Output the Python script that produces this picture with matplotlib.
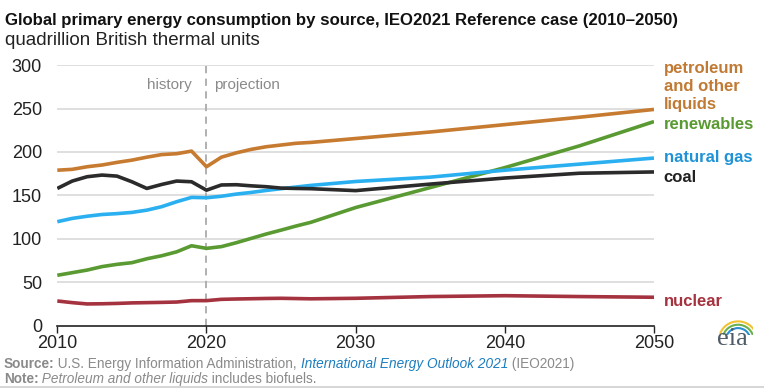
import matplotlib
matplotlib.use("Agg")
import matplotlib.pyplot as plt
from matplotlib.lines import Line2D
from matplotlib.patches import Arc

plt.rcParams['font.family'] = ['Liberation Sans', 'DejaVu Sans']

years_hist = [2010, 2011, 2012, 2013, 2014, 2015, 2016, 2017, 2018, 2019, 2020,
              2021, 2022, 2023, 2024, 2025, 2026, 2027]
years_proj = [2030, 2035, 2040, 2045, 2050]
years = years_hist + years_proj

petroleum = [179, 180, 183, 185, 188, 190.6, 194, 197, 198, 201, 183,
             194, 199, 203, 206, 208, 210, 211,
             215.5, 223, 231.5, 240, 249]
renewables = [58, 61, 64, 68, 70.6, 72.5, 77, 80.5, 85, 92, 89,
              91, 95.5, 100.5, 105.5, 110, 114.7, 119,
              136, 159, 182, 207, 235]
natural_gas = [119.7, 123.5, 126, 128, 129, 130.4, 133, 137, 142.7, 147.7, 147.3,
               149, 151.5, 153.4, 155.7, 157.7, 159.6, 161.5,
               166, 171, 179, 186, 193]
coal = [158, 166.5, 171.5, 173.4, 172.2, 165.7, 158, 162.6, 166.5, 165.7, 156,
        162, 162.3, 161, 160, 158.4, 158, 157.7,
        155.5, 163, 170, 175.5, 177]
nuclear = [28.4, 26.5, 25, 25.2, 25.6, 26.2, 26.5, 26.8, 27.2, 28.8, 28.8,
           30.3, 30.7, 31, 31.3, 31.5, 31.2, 30.9,
           31.5, 33.5, 34.5, 33.5, 32.7]

series = [
    ("petroleum\nand other\nliquids", petroleum, "#c67b30", "#c07a33"),
    ("renewables", renewables, "#5a9a32", "#5a9a32"),
    ("natural gas", natural_gas, "#2ab0f0", "#1f93d6"),
    ("coal", coal, "#2b2b2b", "#222222"),
    ("nuclear", nuclear, "#a5323f", "#a5323f"),
]
label_y = {"petroleum\nand other\nliquids": 275.5, "renewables": 231.5,
           "natural gas": 194, "coal": 171, "nuclear": 27.5}

xticks = [2010, 2020, 2030, 2040, 2050]
yticks = [0, 50, 100, 150, 200, 250, 300]

fig = plt.figure(figsize=(7.64, 3.90), dpi=100)
ax = fig.add_axes([0.075, 0.165, 0.781, 0.668])

ax.set_xlim(2010, 2050)
ax.set_ylim(0, 300)
for y in yticks[1:]:
    ax.axhline(y, color="#d9d9d9", lw=1.2, zorder=0)
ax.axvline(2020, color="#aaaaaa", lw=1.3, ls=(0, (4, 3)), zorder=1)

for name, vals, col, tcol in series:
    ax.plot(years, vals, color=col, lw=2.6, solid_capstyle="butt", zorder=3)
    ax.text(1.016, label_y[name] / 300, name, transform=ax.transAxes,
            color=tcol, fontsize=12, fontweight="bold", va="center", ha="left",
            linespacing=1.28)

ax.text(2019.0, 277, "history", color="#8a8a8a", fontsize=11, ha="right", va="center")
ax.text(2020.5, 277, "projection", color="#8a8a8a", fontsize=11, ha="left", va="center")

for s in ["top", "right", "left"]:
    ax.spines[s].set_visible(False)
ax.spines["bottom"].set_color("#222222")
ax.spines["bottom"].set_linewidth(1.2)
ax.set_xticks(xticks)
ax.set_yticks(yticks)
ax.tick_params(axis="x", length=5, width=1, color="#222222", labelsize=13,
               labelcolor="#222222", pad=2)
ax.tick_params(axis="y", length=0, labelsize=13, labelcolor="#222222", pad=11)

fig.text(0.007, 0.948, "Global primary energy consumption by source, IEO2021 Reference case (2010\u20132050)",
         fontsize=12.1, fontweight="bold", color="#111111", va="center")
fig.text(0.007, 0.895, "quadrillion British thermal units", fontsize=13.5,
         color="#222222", va="center")

# source / note lines with mixed styles
fig.canvas.draw()
renderer = fig.canvas.get_renderer()

def run(parts, y):
    x = 0.005
    for txt, kw in parts:
        t = fig.text(x, y, txt, fontsize=9.8, va="center", **kw)
        bb = t.get_window_extent(renderer)
        x += bb.width / fig.bbox.width

gray = "#8a8a8a"
run([("Source:", dict(color=gray, fontweight="bold")),
     (" U.S. Energy Information Administration, ", dict(color=gray)),
     ("International Energy Outlook 2021", dict(color="#1b7dbf", style="italic")),
     (" (IEO2021)", dict(color=gray))], 0.066)
run([("Note:", dict(color=gray, fontweight="bold")),
     (" Petroleum and other liquids", dict(color=gray, style="italic")),
     (" includes biofuels.", dict(color=gray))], 0.029)

fig.add_artist(Line2D([0, 1], [0.008, 0.008], color="#d0d0d0", lw=1.2,
                      transform=fig.transFigure))

# eia logo
fig.text(0.958, 0.13, "eia", fontsize=19, family="Liberation Serif",
         color="#4f5b66", ha="center", va="center")
lax = fig.add_axes([0.935, 0.14, 0.05, 0.06])
lax.set_xlim(0, 1)
lax.set_ylim(0, 1)
lax.axis("off")
for r, c in [(1.0, "#f2c230"), (0.82, "#6ab04c"), (0.64, "#2a8fd0")]:
    lax.add_patch(Arc((0.62, -0.2), r, r * 1.6, theta1=25, theta2=150, color=c, lw=1.5))

fig.savefig("out.png", dpi=100)
